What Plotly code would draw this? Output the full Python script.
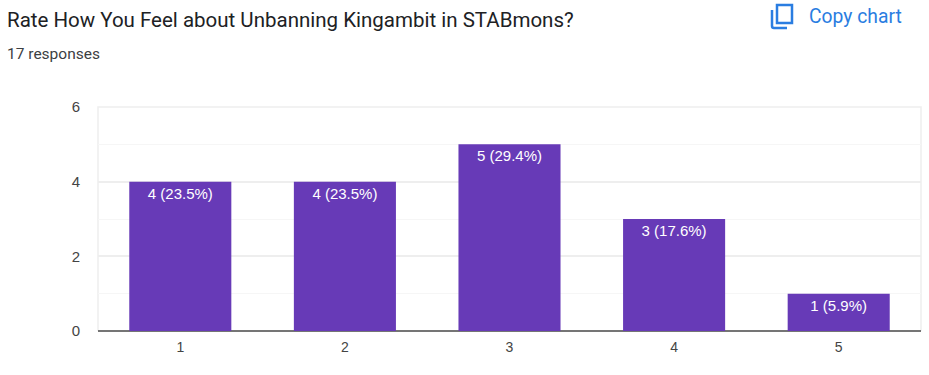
import plotly.graph_objects as go

categories = ["1", "2", "3", "4", "5"]
counts = [4, 4, 5, 3, 1]
labels = ["4 (23.5%)", "4 (23.5%)", "5 (29.4%)", "3 (17.6%)", "1 (5.9%)"]
y_ticks = [0, 2, 4, 6]
title_text = "Rate How You Feel about Unbanning Kingambit in STABmons?"
subtitle_text = "17 responses"
copy_text = "Copy chart"

W, H = 929, 375
L, R, T, B = 98, 8, 107, 44
BLUE = "#2a7de1"

fig = go.Figure(go.Bar(
    x=categories, y=counts, text=labels,
    width=0.62,
    marker=dict(color="#673ab7", line=dict(width=0)),
    textposition="inside", insidetextanchor="end", textangle=0,
    constraintext="none",
    textfont=dict(family="Liberation Sans, Arial", size=15, color="#ffffff"),
    hoverinfo="skip",
))

def xp(x):
    return (x - L) / (W - L - R)

def yp(y):
    return 1 - (y - T) / (H - T - B)

def container_text(x, y, text, size, color, family, anchor="left"):
    fig.add_annotation(xref="paper", yref="paper", x=xp(x), y=yp(y), text=text,
                       showarrow=False, xanchor=anchor, yanchor="middle",
                       font=dict(size=size, color=color, family=family))

container_text(5, 20, title_text, 20.5, "#202124", "Roboto")
container_text(5, 54, subtitle_text, 15.5, "#3c4043", "Roboto")
container_text(806.5, 16, copy_text, 19.3, BLUE, "Roboto")

# Copy icon: back sheet, then front sheet
fig.add_shape(type="path", xref="paper", yref="paper", layer="above",
              path="M {} {} L {} {} Q {} {} {} {} L {} {}".format(
                  xp(772), yp(10), xp(772), yp(26), xp(772), yp(28), xp(774), yp(28), xp(787), yp(28)),
              line=dict(color=BLUE, width=2.5))
fig.add_shape(type="rect", xref="paper", yref="paper", layer="above",
              x0=xp(777), x1=xp(792), y0=yp(5), y1=yp(23),
              line=dict(color=BLUE, width=2.5), fillcolor="rgba(0,0,0,0)")

fig.update_layout(
    width=W, height=H, autosize=False,
    margin=dict(l=L, r=R, t=T, b=B),
    paper_bgcolor="#ffffff", plot_bgcolor="#ffffff",
    showlegend=False, bargap=0.38,
    font=dict(family="Liberation Sans, Arial", size=14, color="#444444"),
    xaxis=dict(
        type="category", showgrid=False, ticks="", zeroline=False,
        showline=False, ticklabelstandoff=6, tickfont=dict(size=14, color="#444444"),
    ),
    yaxis=dict(
        range=[0, 6], tickvals=y_ticks, ticks="", showline=False,
        gridcolor="#eeeeee", gridwidth=1.5, zeroline=True,
        zerolinecolor="#757575", zerolinewidth=1.5,
        ticklabelstandoff=17, tickfont=dict(size=15, color="#444444"),
        minor=dict(dtick=1, showgrid=True, gridcolor="#f6f6f6", gridwidth=1, ticks=""),
    ),
)
# Frame of the plotting area: left, top and right edges
fig.add_shape(type="path", xref="paper", yref="paper", path="M 0 0 L 0 1 L 1 1 L 1 0",
              layer="below", line=dict(color="#eeeeee", width=1.5))
fig.write_html("out.html", post_script="document.body.style.margin='0';",
               config=dict(displayModeBar=False))
